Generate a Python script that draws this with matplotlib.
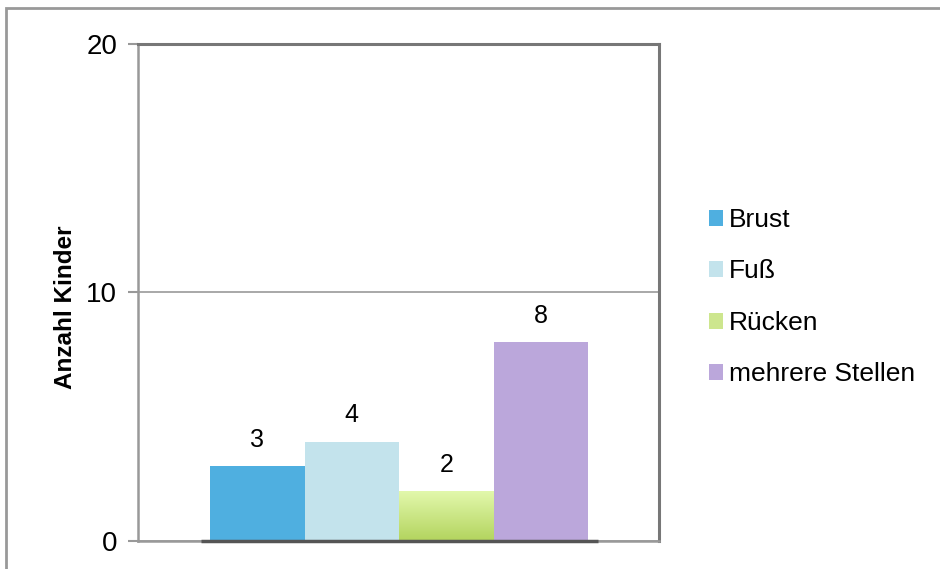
import numpy as np
import matplotlib.pyplot as plt
from matplotlib.patches import Rectangle, Patch
from matplotlib.colors import LinearSegmentedColormap

plt.rcParams['font.family'] = ['Liberation Sans', 'DejaVu Sans']

# data
categories = ['Brust', 'Fuß', 'Rücken', 'mehrere Stellen']
values = [3, 4, 2, 8]
colors = ['#4fafe0', '#c3e3ec', '#cde68e', '#bba7db']
yticks = [0, 10, 20]

fig = plt.figure(figsize=(9.4, 5.69), dpi=100)
ax = fig.add_axes([0.1468, 0.0492, 0.5543, 0.8735])

x = np.arange(len(values))
bars = ax.bar(x, values, width=1.0, color=colors, zorder=3, linewidth=0)

# gradient for the green bar
green = LinearSegmentedColormap.from_list('g', ['#b3d45e', '#e2f8ac'])
b = bars[2]
bx, bw, bh = b.get_x(), b.get_width(), b.get_height()
grad = np.linspace(0, 1, 100).reshape(-1, 1)
b.set_facecolor('none')
ax.imshow(grad, cmap=green, origin='lower', aspect='auto',
          extent=(bx, bx + bw, 0, bh), zorder=3)

# value labels
for xi, v in zip(x, values):
    ax.annotate(str(v), (xi, v), xytext=(0, 19), textcoords='offset points',
                ha='center', va='center', fontsize=18)

ax.set_xlim(-1.262, 4.251)
ax.set_ylim(0, 20)
ax.set_yticks(yticks)
ax.set_xticks([])
ax.tick_params(axis='y', labelsize=20, length=7, width=1.5, color='#999999', pad=8)
ax.grid(axis='y', color='#999999', linewidth=1.2, zorder=0)

for s in ['left', 'bottom']:
    ax.spines[s].set_color('#999999')
    ax.spines[s].set_linewidth(1.8)
for s in ['top', 'right']:
    ax.spines[s].set_color('#777777')
    ax.spines[s].set_linewidth(2.2)

# darker category axis segment under the bars
ax.hlines(0, x[0] - 0.6, x[-1] + 0.6, color='#555555', linewidth=2.5, zorder=4, clip_on=False)

ax.set_ylabel('Anzahl Kinder', fontsize=17.5, fontweight='bold')
ax.yaxis.set_label_coords(-0.117, 0.471)

# legend
handles = [Patch(facecolor=c, edgecolor='none') for c in colors]
fig.legend(handles, categories, loc='upper left', bbox_to_anchor=(0.743, 0.653),
           frameon=False, fontsize=19, handlelength=0.55, handleheight=0.55,
           handletextpad=0.22, labelspacing=1.04, borderaxespad=0)

# outer frame
fig.patches.append(Rectangle((6 / 940, -0.1), 1.2, 1.1 - 8 / 569, transform=fig.transFigure,
                             fill=False, edgecolor='#999999', linewidth=2))

fig.savefig('out.png', dpi=100)
